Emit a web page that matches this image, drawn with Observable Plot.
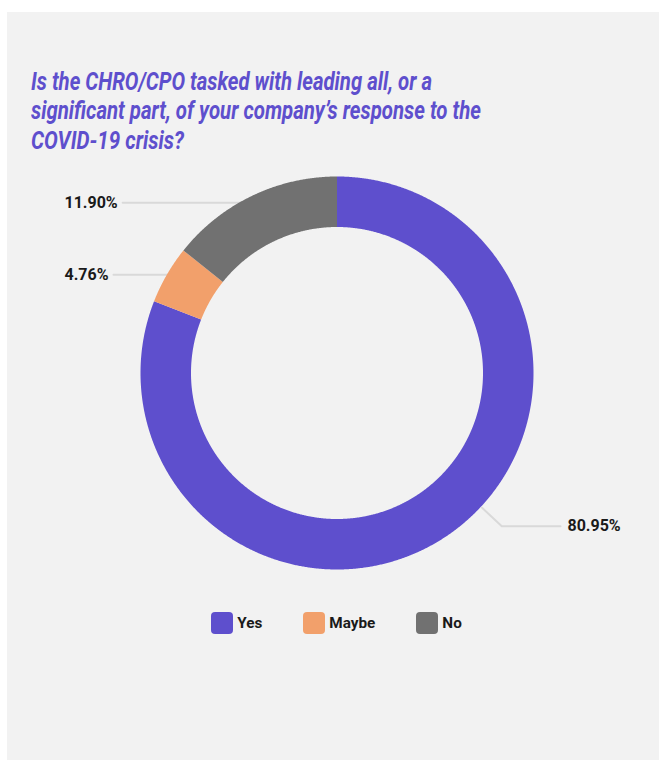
<!DOCTYPE html>
<html><head><meta charset="utf-8">
<script src="https://cdn.jsdelivr.net/npm/d3@7"></script>
<script src="https://cdn.jsdelivr.net/npm/@observablehq/plot@0.6"></script>
<style>
html,body{margin:0;padding:0;background:#fff;}
#fig{position:relative;width:659px;height:760px;overflow:hidden;font-family:Roboto, sans-serif;}
#panel{position:absolute;left:7px;top:12px;right:0;bottom:0;background:#f2f2f2;}
#title{position:absolute;left:31px;top:0;}
.tl{position:absolute;left:0;white-space:nowrap;font-style:italic;font-weight:700;font-size:25px;line-height:25px;font-family:Roboto, sans-serif;color:#5e4fcd;transform-origin:0 0;}
#chart{position:absolute;left:0;top:0;}
#legend{position:absolute;left:7px;top:612px;width:659px;height:22px;display:flex;justify-content:center;}
.item{display:flex;align-items:center;margin:0 20.5px;}
.sw{width:22px;height:22px;border-radius:4px;margin-right:4px;}
.lt{line-height:22px;font-weight:700;font-size:15.3px;font-family:Roboto, sans-serif;color:#1a1a1a;}
</style></head>
<body>
<div id="fig">
  <div id="panel"></div>
  <div id="title"></div>
  <div id="chart"></div>
  <div id="legend"></div>
</div>
<script>
// ---- data ----
const categories = ["Yes", "Maybe", "No", "Other"];
const shares = [80.95, 4.76, 11.90, 2.38];
const shareLabels = ["80.95%", "4.76%", "11.90%", null];
const legendCategories = ["Yes", "Maybe", "No"];
const titleLines = [
  "Is the CHRO/CPO tasked with leading all, or a",
  "significant part, of your company’s response to the",
  "COVID-19 crisis?"
];

// ---- styles / layout ----
const sliceColors = {Yes: "#5e4fcd", Maybe: "#f2a06b", No: "#717171", Other: "#717171"};
const W = 659, H = 760;
const cx = 336.5, cy = 372.5, R = 196.5;
const innerFrac = 146 / 196.5;
const titleBaselines = [89.5, 119, 148.5];
const titleWidths = [401, 450, 153];

// ---- title ----
const titleDiv = document.getElementById("title");
titleLines.forEach((t, i) => {
  const s = document.createElement("span");
  s.className = "tl";
  s.textContent = t;
  s.style.top = (titleBaselines[i] - 21) + "px";
  titleDiv.appendChild(s);
  const w = s.getBoundingClientRect().width;
  s.style.transform = `scaleX(${titleWidths[i] / w})`;
});

// ---- pie geometry ----
const pie = d3.pie().sort(null).value(d => d)(shares);
const toUx = px => (px - cx) / R;

const canvas = document.createElement("canvas");
const ctx = canvas.getContext("2d");
ctx.font = "bold 16px Roboto";

const marks = [];
const leaderStyle = {stroke: "#d9d9d9", strokeWidth: 2};
const textStyle = {fontSize: 16, fontWeight: 700, fill: "#1a1a1a", fontFamily: "Roboto, sans-serif", textAnchor: "start"};

pie.forEach((s, i) => {
  const lab = shareLabels[i];
  if (!lab) return;
  const span = s.endAngle - s.startAngle;
  const a = span > Math.PI ? s.startAngle + 0.456 * span : (s.startAngle + s.endAngle) / 2;
  const sx = Math.sin(a), sy = -Math.cos(a);
  if (sx > 0) {
    const p0 = {x: sx * 1.0076, y: sy * 1.0076};
    const p1 = {x: sx * 1.145, y: sy * 1.145};
    const p2 = {x: toUx(560), y: p1.y};
    marks.push(Plot.line([p0, p1, p2], {x: "x", y: "y", ...leaderStyle}));
    marks.push(Plot.text([{x: toUx(567), y: p1.y, t: lab}], {x: "x", y: "y", text: "t", ...textStyle}));
  } else {
    const tx = 64;
    const tw = ctx.measureText(lab).width;
    const p0 = {x: toUx(tx + tw + 5), y: sy};
    const p1 = {x: sx * 0.98, y: sy};
    marks.push(Plot.line([p0, p1], {x: "x", y: "y", ...leaderStyle}));
    marks.push(Plot.text([{x: toUx(tx), y: sy, t: lab}], {x: "x", y: "y", text: "t", ...textStyle}));
  }
});

// merge consecutive slices of the same colour into one band (avoids seams)
const bands = [];
pie.forEach((s, i) => {
  const col = sliceColors[categories[i]];
  const last = bands[bands.length - 1];
  if (last && last.col === col) last.a1 = s.endAngle;
  else bands.push({col, a0: s.startAngle, a1: s.endAngle});
});

bands.forEach(b => {
  const n = Math.max(2, Math.ceil((b.a1 - b.a0) / 0.005));
  const pts = [];
  for (let k = 0; k <= n; k++) {
    const a = b.a0 + (b.a1 - b.a0) * k / n;
    pts.push({x: Math.sin(a), y: -Math.cos(a)});
  }
  for (let k = n; k >= 0; k--) {
    const a = b.a0 + (b.a1 - b.a0) * k / n;
    pts.push({x: innerFrac * Math.sin(a), y: -innerFrac * Math.cos(a)});
  }
  marks.push(Plot.line(pts, {x: "x", y: "y", fill: b.col, stroke: "none", curve: "linear"}));
});

const chart = Plot.plot({
  width: W, height: H, margin: 0,
  x: {domain: [-1, 1], range: [cx - R, cx + R], axis: null},
  y: {domain: [-1, 1], range: [cy - R, cy + R], axis: null},
  style: {background: "transparent", overflow: "visible"},
  marks
});
document.getElementById("chart").appendChild(chart);

// ---- legend ----
const legend = document.getElementById("legend");
legendCategories.forEach(c => {
  const it = document.createElement("div");
  it.className = "item";
  const sw = document.createElement("div");
  sw.className = "sw";
  sw.style.background = sliceColors[c];
  const t = document.createElement("span");
  t.className = "lt";
  t.textContent = c;
  it.appendChild(sw); it.appendChild(t);
  legend.appendChild(it);
});
</script>
</body></html>
